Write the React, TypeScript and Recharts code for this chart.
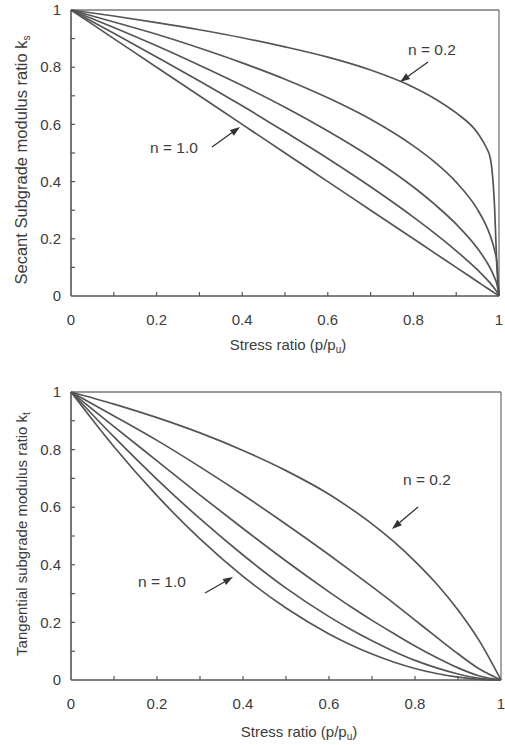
import { LineChart, Line, XAxis, YAxis, ReferenceLine } from 'recharts';

// stress ratio p/pu and curve values
const stressTop = [0, 0.1, 0.2, 0.3, 0.4, 0.5, 0.6, 0.7, 0.8, 0.85, 0.9, 0.95, 0.97, 0.98, 0.99, 0.995, 1];
const secantN02 = [1, 0.979, 0.956, 0.931, 0.903, 0.871, 0.835, 0.79, 0.73, 0.69, 0.64, 0.57, 0.52, 0.48, 0.3, 0.1, 0];
const secantN04 = [1, 0.958, 0.915, 0.867, 0.815, 0.758, 0.693, 0.618, 0.525, 0.468, 0.398, 0.302, 0.246, 0.209, 0.158, 0.12, 0];
const secantN06 = [1, 0.939, 0.875, 0.807, 0.736, 0.66, 0.577, 0.486, 0.381, 0.32, 0.251, 0.166, 0.122, 0.096, 0.063, 0.042, 0];
const secantN08 = [1, 0.919, 0.836, 0.752, 0.665, 0.574, 0.481, 0.382, 0.276, 0.219, 0.158, 0.091, 0.061, 0.044, 0.025, 0.015, 0];
const secantN10 = [1, 0.9, 0.8, 0.7, 0.6, 0.5, 0.4, 0.3, 0.2, 0.15, 0.1, 0.05, 0.03, 0.02, 0.01, 0.005, 0];

const stressBottom = [0, 0.1, 0.2, 0.3, 0.4, 0.5, 0.6, 0.65, 0.7, 0.75, 0.8, 0.85, 0.9, 0.95, 1];
const tangentN02 = [1, 0.958, 0.911, 0.858, 0.797, 0.727, 0.645, 0.596, 0.542, 0.481, 0.412, 0.334, 0.243, 0.135, 0];
const tangentN04 = [1, 0.917, 0.832, 0.74, 0.643, 0.541, 0.435, 0.38, 0.324, 0.267, 0.208, 0.149, 0.091, 0.038, 0];
const tangentN06 = [1, 0.88, 0.761, 0.642, 0.526, 0.413, 0.306, 0.255, 0.207, 0.162, 0.118, 0.078, 0.042, 0.014, 0];
const tangentN08 = [1, 0.844, 0.697, 0.56, 0.434, 0.319, 0.22, 0.176, 0.136, 0.1, 0.068, 0.042, 0.021, 0.006, 0];
const tangentN10 = [1, 0.81, 0.64, 0.49, 0.36, 0.25, 0.16, 0.1225, 0.09, 0.0625, 0.04, 0.0225, 0.01, 0.0025, 0];

const axisTicks = [0, 0.1, 0.2, 0.3, 0.4, 0.5, 0.6, 0.7, 0.8, 0.9, 1];
const seriesKeys = ['n02', 'n04', 'n06', 'n08', 'n10'];

const INK = '#555';
const TEXT = '#3c3c3c';
const FONT = '"Liberation Sans", Arial, sans-serif';

const buildRows = (xs: number[], cols: number[][]) =>
  xs.map((x, i) => {
    const row: Record<string, number> = { x };
    seriesKeys.forEach((k, j) => (row[k] = cols[j][i]));
    return row;
  });

const topData = buildRows(stressTop, [secantN02, secantN04, secantN06, secantN08, secantN10]);
const bottomData = buildRows(stressBottom, [tangentN02, tangentN04, tangentN06, tangentN08, tangentN10]);

const isMajor = (v: number) => Math.abs(v * 5 - Math.round(v * 5)) < 1e-6;
const fmt = (v: number) => (v === 0 ? '0' : v === 1 ? '1' : v.toFixed(1));

const XTick = (props: any) => {
  const { x, y, payload } = props;
  const v = payload.value;
  return (
    <g>
      {v > 0 && v < 1 && <line x1={x} x2={x} y1={y} y2={y - 4} stroke={INK} strokeWidth={1.2} />}
      {isMajor(v) && (
        <text x={x} y={y + 29} textAnchor="middle" fontSize={15} fill={TEXT} fontFamily={FONT}>
          {fmt(v)}
        </text>
      )}
    </g>
  );
};

const YTick = (props: any) => {
  const { x, y, payload } = props;
  const v = payload.value;
  return (
    <g>
      {v > 0 && v < 1 && <line x1={x} x2={x + 4} y1={y} y2={y} stroke={INK} strokeWidth={1.2} />}
      {isMajor(v) && (
        <text x={x - 10} y={y} dy="0.35em" textAnchor="end" fontSize={15} fill={TEXT} fontFamily={FONT}>
          {fmt(v)}
        </text>
      )}
    </g>
  );
};

function Arrow({ x1, y1, x2, y2 }: { x1: number; y1: number; x2: number; y2: number }) {
  const dx = x2 - x1;
  const dy = y2 - y1;
  const len = Math.hypot(dx, dy);
  const ux = dx / len;
  const uy = dy / len;
  const head = 10;
  const half = 3.5;
  const bx = x2 - ux * head;
  const by = y2 - uy * head;
  const pts = `${x2},${y2} ${bx - uy * half},${by + ux * half} ${bx + uy * half},${by - ux * half}`;
  return (
    <g>
      <line x1={x1} y1={y1} x2={bx} y2={by} stroke="#333" strokeWidth={1.3} />
      <polygon points={pts} fill="#333" />
    </g>
  );
}

function Panel({ data, top, height, right, yTitle, sub, yTitleSize, yTitleY, xTitleX, xTitleY }: any) {
  return (
    <div style={{ position: 'absolute', left: 0, top, width: 505, height }}>
      <LineChart width={505} height={height} data={data} margin={{ top: 10, right, bottom: 0, left: 0 }}>
        <XAxis
          dataKey="x"
          type="number"
          domain={[0, 1]}
          ticks={axisTicks}
          interval={0}
          tickSize={0}
          tickMargin={0}
          height={64}
          axisLine={{ stroke: INK, strokeWidth: 1.6 }}
          tick={<XTick />}
        />
        <YAxis
          type="number"
          domain={[0, 1]}
          ticks={axisTicks}
          interval={0}
          tickSize={0}
          tickMargin={0}
          width={71}
          axisLine={{ stroke: INK, strokeWidth: 1.6 }}
          tick={<YTick />}
        />
        <ReferenceLine y={1} stroke="#777" strokeWidth={1.3} />
        <ReferenceLine x={1} stroke="#777" strokeWidth={1.3} />
        {seriesKeys.map((k) => (
          <Line
            key={k}
            dataKey={k}
            type="monotone"
            stroke={INK}
            strokeWidth={1.7}
            dot={false}
            isAnimationActive={false}
          />
        ))}
      </LineChart>
      <svg width={505} height={height} style={{ position: 'absolute', left: 0, top: 0, pointerEvents: 'none' }}>
        <text
          transform={`translate(27,${yTitleY}) rotate(-90)`}
          textAnchor="middle"
          fontSize={yTitleSize}
          fill={TEXT}
          fontFamily={FONT}
        >
          {yTitle}
          <tspan fontSize={10} dy={3}>{sub}</tspan>
        </text>
        <text x={xTitleX} y={xTitleY} textAnchor="middle" fontSize={15} fill={TEXT} fontFamily={FONT}>
          Stress ratio (p/p<tspan fontSize={10} dy={3}>u</tspan>
          <tspan dy={-3}>)</tspan>
        </text>
      </svg>
    </div>
  );
}

export default function App() {
  return (
    <div style={{ position: 'absolute', left: 0, top: 0, width: 505, height: 745, background: '#fff' }}>
      <Panel
        data={topData}
        top={0}
        height={360}
        right={6}
        yTitle="Secant Subgrade modulus ratio k"
        sub="s"
        yTitleSize={16.5}
        yTitleY={160}
        xTitleX={288}
        xTitleY={350}
      />
      <Panel
        data={bottomData}
        top={382}
        height={362}
        right={4}
        yTitle="Tangential subgrade modulus ratio k"
        sub="t"
        yTitleSize={15}
        yTitleY={152}
        xTitleX={299}
        xTitleY={355}
      />
      <svg width={505} height={745} style={{ position: 'absolute', left: 0, top: 0, pointerEvents: 'none' }}>
        <g fontSize={15.5} fill={TEXT} fontFamily={FONT}>
          <text x={408} y={55}>n = 0.2</text>
          <text x={150} y={153}>n = 1.0</text>
          <text x={403} y={485}>n = 0.2</text>
          <text x={138} y={587}>n = 1.0</text>
        </g>
        <Arrow x1={428} y1={62} x2={400} y2={82} />
        <Arrow x1={212} y1={147} x2={240} y2={127} />
        <Arrow x1={418} y1={507} x2={392} y2={529} />
        <Arrow x1={205} y1={593} x2={233} y2={577} />
      </svg>
    </div>
  );
}
